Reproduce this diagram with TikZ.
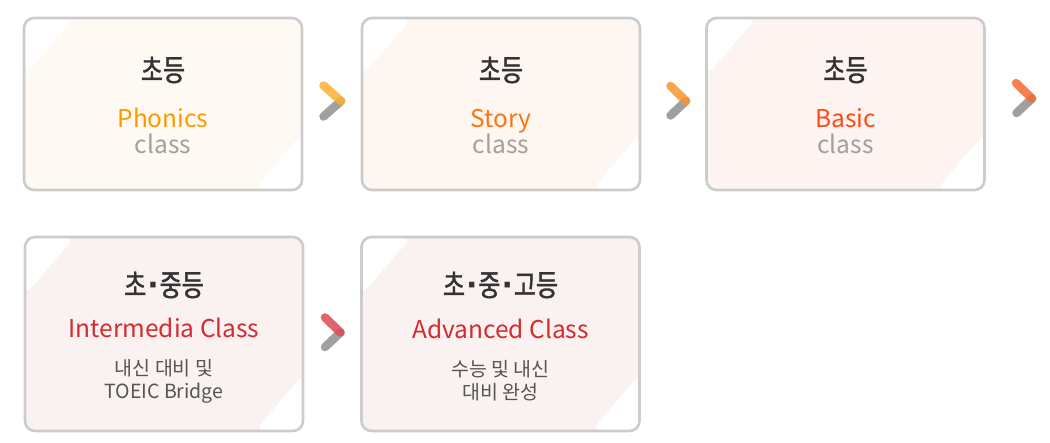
\documentclass[tikz,border=0pt]{standalone}
\usepackage{fontspec}
\setmainfont{Noto Sans CJK KR}
\newfontfamily\headfont[FakeStretch=0.8,FakeBold=1.3]{Noto Sans CJK KR}
\newfontfamily\dotfont{DejaVu Sans}
\newcommand{\mdot}{\kern1pt{\dotfont\bfseries ·}\kern1pt}
\definecolor{bordergray}{HTML}{CCCCCC}
\definecolor{fillA}{HTML}{FEFAF3}
\definecolor{fillB}{HTML}{FEF6F1}
\definecolor{fillC}{HTML}{FDF3F0}
\definecolor{fillD}{HTML}{FAF1F1}
\definecolor{headcol}{HTML}{333333}
\definecolor{subcol}{HTML}{555555}
\definecolor{classcol}{HTML}{A0A0A0}
\definecolor{cPhon}{HTML}{FF9900}
\definecolor{cStory}{HTML}{FF7412}
\definecolor{cBasic}{HTML}{FF4A12}
\definecolor{cRed}{HTML}{D42A30}
\definecolor{chevA}{HTML}{FBB030}
\definecolor{chevB}{HTML}{FA9530}
\definecolor{chevC}{HTML}{F56A30}
\definecolor{chevD}{HTML}{DC4A55}
\definecolor{chevgray}{HTML}{A0A0A0}
\usetikzlibrary{calc}
\tikzset{
  card/.style={draw=bordergray, line width=2.6pt, rounded corners=10pt,
    minimum width=278pt, inner sep=0pt,
    path picture={
      \fill[white] (path picture bounding box.north west) -- ++(50,0) -- ++(-50,58) -- cycle;
      \fill[white] (path picture bounding box.south east) -- ++(-48,0) -- ++(48,-57) -- cycle;
    }},
  cardtop/.style={card, minimum height=172pt},
  cardbot/.style={card, minimum height=194pt},
  head/.style={font=\headfont\fontsize{30}{34}\selectfont, text=headcol, inner sep=0pt},
  title/.style={font=\fontsize{24.5}{28}\selectfont, inner sep=0pt, anchor=base},
  cls/.style={font=\fontsize{24.5}{28}\selectfont, text=classcol, inner sep=0pt, anchor=base},
  sub/.style={font=\fontsize{19.5}{23}\selectfont, text=subcol, inner sep=0pt, anchor=base},
  chevlow/.style={draw=chevgray, line width=8.5pt, line cap=round},
  chevhigh/.style={line width=8.5pt, line cap=round, draw opacity=0.85},
}
\begin{document}
\begin{tikzpicture}[x=1pt,y=-1pt]
\useasboundingbox (0,0) rectangle (1050,443);
% cards
\node[cardtop, fill=fillA] (b1) at (163,104) {};
\node[cardtop, fill=fillB] (b2) at (501,104) {};
\node[cardtop, fill=fillC] (b3) at (845.5,104) {};
\node[cardbot, fill=fillD] (b4) at (164,334) {};
\node[cardbot, fill=fillD] (b5) at (500.5,334) {};
% texts row 1
\node[head] (h1) at ($(b1.center)+(0,-34)$) {초등};
\node[title, text=cPhon] (t1) at ($(b1.center)+(0,23.5)$) {Phonics};
\node[cls] (c1) at ($(b1.center)+(0,49.5)$) {class};
\node[head] (h2) at ($(b2.center)+(0,-34)$) {초등};
\node[title, text=cStory] (t2) at ($(b2.center)+(0,23.5)$) {Story};
\node[cls] (c2) at ($(b2.center)+(0,49.5)$) {class};
\node[head] (h3) at ($(b3.center)+(0,-34)$) {초등};
\node[title, text=cBasic] (t3) at ($(b3.center)+(0,23.5)$) {Basic};
\node[cls] (c3) at ($(b3.center)+(0,49.5)$) {class};
% texts row 2
\node[head] (h4) at ($(b4.center)+(0,-49)$) {초\mdot 중등};
\node[title, text=cRed] (t4) at ($(b4.center)+(0,3.5)$) {Intermedia Class};
\node[sub] (s4a) at ($(b4.center)+(0,42)$) {내신 대비 및};
\node[sub] (s4b) at ($(b4.center)+(0,64.5)$) {TOEIC Bridge};
\node[head] (h5) at ($(b5.center)+(0,-49)$) {초\mdot 중\mdot 고등};
\node[title, text=cRed] (t5) at ($(b5.center)+(0,4.5)$) {Advanced Class};
\node[sub] (s5a) at ($(b5.center)+(0,43)$) {수능 및 내신};
\node[sub] (s5b) at ($(b5.center)+(0,66)$) {대비 완성};
% chevron coordinates
\coordinate (k1a) at (323.5,85.5); \coordinate (k1t) at (341,101); \coordinate (k1b) at (323.5,116.5);
\coordinate (k2a) at (670.5,86); \coordinate (k2t) at (686,101); \coordinate (k2b) at (670.5,115.5);
\coordinate (k3a) at (1016,83); \coordinate (k3t) at (1032,98.5); \coordinate (k3b) at (1016.5,113);
\coordinate (k4a) at (325,317.5); \coordinate (k4t) at (340.5,332.5); \coordinate (k4b) at (325,347);
\draw[chevlow] (k1t) -- (k1b);
\draw[chevhigh, draw=chevA] (k1a) -- (k1t);
\draw[chevlow] (k2t) -- (k2b);
\draw[chevhigh, draw=chevB] (k2a) -- (k2t);
\draw[chevlow] (k3t) -- (k3b);
\draw[chevhigh, draw=chevC] (k3a) -- (k3t);
\draw[chevlow] (k4t) -- (k4b);
\draw[chevhigh, draw=chevD] (k4a) -- (k4t);
\end{tikzpicture}
\end{document}
